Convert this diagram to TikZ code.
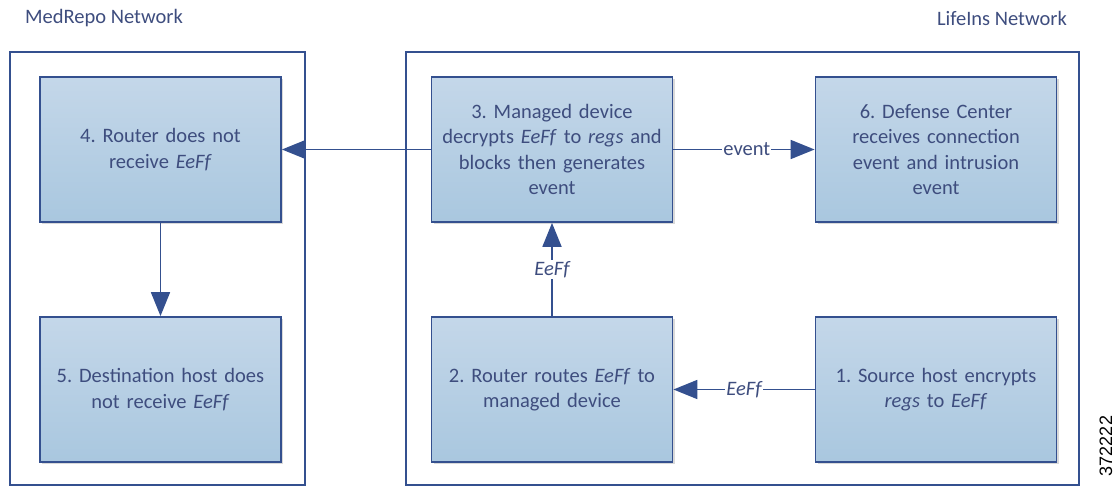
\documentclass[tikz,border=0pt]{standalone}
\usepackage{fontspec}
\setmainfont{Carlito}
\newfontfamily\numfont{Liberation Sans}
\usetikzlibrary{arrows.meta,shadows}
\definecolor{lineblue}{HTML}{34508F}
\definecolor{txtblue}{HTML}{3E4D7E}
\definecolor{filltop}{HTML}{C4D7E9}
\definecolor{fillbot}{HTML}{A9C7DF}
\tikzset{
  stepbox/.style={draw=lineblue, line width=1.8pt, top color=filltop, bottom color=fillbot,
    minimum width=241pt, minimum height=145pt, text width=232pt, align=center,
    text=txtblue, font=\fontsize{20.5}{25.5}\selectfont, inner sep=0pt,
    drop shadow={shadow xshift=2pt, shadow yshift=-2pt, fill=black!25, opacity=0.6}},
  netbox/.style={draw=lineblue, line width=1.8pt},
  conn/.style={draw=lineblue, line width=1.8pt, -{Triangle[length=24pt,width=19pt]}},
  lbl/.style={fill=white, inner sep=1pt, text=txtblue, font=\fontsize{20.5}{24}\selectfont\itshape},
  hdr/.style={text=txtblue, font=\fontsize{20.5}{24}\selectfont, inner sep=0pt}
}
\begin{document}
\frenchspacing
\begin{tikzpicture}[x=1pt,y=-1pt]
\useasboundingbox (0,0) rectangle (1116,489);
\node[hdr, anchor=west] (hl) at (25,18) {MedRepo Network};
\node[hdr, anchor=east] (hr) at (1067,18) {LifeIns Network};
\draw[netbox] (10,52) rectangle (305,485);
\draw[netbox] (406,52) rectangle (1079,485);
\node[stepbox] (n4) at (160.5,149.5) {4. Router does not\\receive \textit{EeFf}};
\node[stepbox] (n5) at (160.5,389.5) {5. Destination host does\\not receive \textit{EeFf}};
\node[stepbox] (n3) at (552,149.5) {3. Managed device\\decrypts \textit{EeFf} to \textit{regs} and\\blocks then generates\\event};
\node[stepbox] (n2) at (552,389.5) {2. Router routes \textit{EeFf} to\\managed device};
\node[stepbox] (n6) at (936,149.5) {6. Defense Center\\receives connection\\event and intrusion\\event};
\node[stepbox] (n1) at (936,389.5) {1. Source host encrypts\\\textit{regs} to \textit{EeFf}};
\draw[conn] (n3.west) -- (n4.east);
\draw[conn] (n3.east) -- node[lbl, font=\fontsize{20.5}{24}\selectfont, pos=0.52] {event} (n6.west);
\draw[conn] (n4.south) -- (n5.north);
\draw[conn] (n2.north) -- node[lbl] {EeFf} (n3.south);
\draw[conn] (n1.west) -- node[lbl] {EeFf} (n2.east);
\node[rotate=90, font=\numfont\fontsize{18}{20}\selectfont, inner sep=0pt] (id) at (1106,446) {372222};
\end{tikzpicture}
\end{document}
